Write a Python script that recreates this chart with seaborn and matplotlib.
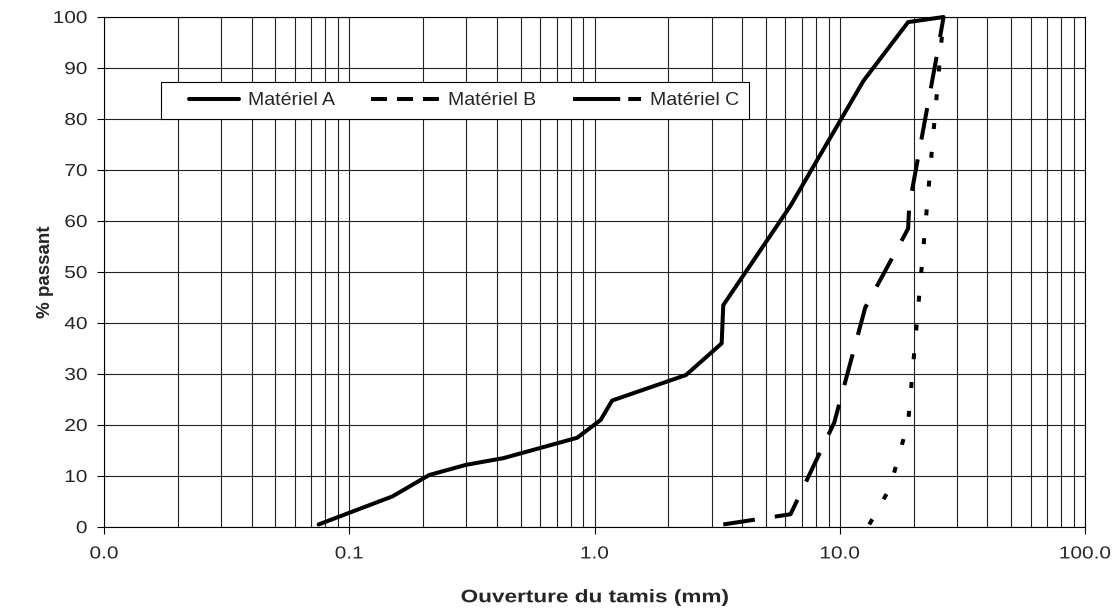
import matplotlib
matplotlib.use("Agg")
import matplotlib.pyplot as plt
from matplotlib.lines import Line2D
from matplotlib.patheffects import AbstractPathEffect
from matplotlib.transforms import Affine2D
from matplotlib.ticker import FixedLocator, LogLocator, NullFormatter, FuncFormatter
import seaborn as sns
import pandas as pd

# Sieve openings (mm) and percent passing for each material
mat_a_x = [0.075, 0.15, 0.212, 0.3, 0.425, 0.85, 1.06, 1.18, 2.36, 3.3, 3.35, 6.3, 12.5, 19.0, 26.5]
mat_a_y = [0.5, 6.0, 10.2, 12.2, 13.5, 17.5, 21.0, 24.8, 29.8, 36.0, 43.5, 63.0, 87.5, 99.0, 100.0]

mat_b_x = [13.2, 16.0, 19.0, 26.5]
mat_b_y = [0.5, 7.6, 20.5, 100.0]

mat_c_x = [3.35, 6.3, 9.5, 12.7, 19.0, 19.2, 22.4, 25.0, 26.5]
mat_c_y = [0.5, 2.5, 20.5, 43.0, 58.5, 63.0, 80.5, 93.0, 100.0]

series_names = ["Matériel A", "Matériel B", "Matériel C"]
x_tick_values = [0.01, 0.1, 1, 10, 100]
y_tick_values = list(range(0, 101, 10))


class HStretch(AbstractPathEffect):
    """Widen glyph outlines horizontally around an anchor (0 left, 0.5 centre, 1 right)."""

    def __init__(self, sx, anchor=0.5):
        super().__init__()
        self.sx = sx
        self.anchor = anchor

    def draw_path(self, renderer, gc, tpath, affine, rgbFace=None):
        ext = tpath.get_extents()
        x_a = ext.x0 + self.anchor * (ext.x1 - ext.x0)
        pre = Affine2D().translate(-x_a, 0).scale(self.sx, 1).translate(x_a, 0)
        renderer.draw_path(gc, tpath, pre + affine, rgbFace)


sns.set_style("white")
plt.rcParams["font.family"] = ["Liberation Sans", "DejaVu Sans"]
plt.rcParams["lines.scale_dashes"] = False

fig = plt.figure(figsize=(11.17, 6.13), dpi=100)
ax = fig.add_axes([104 / 1117, 1 - 527 / 613, 981 / 1117, 510 / 613])

lw = 2.9
styles = {
    "Matériel A": dict(linestyle="-"),
    "Matériel B": dict(linestyle=(0, (4.3, 16.5))),
    "Matériel C": dict(linestyle=(0, (23, 14.5))),
}
data = {
    "Matériel A": (mat_a_x, mat_a_y),
    "Matériel B": (mat_b_x, mat_b_y),
    "Matériel C": (mat_c_x, mat_c_y),
}
for name in series_names:
    xs, ys = data[name]
    df = pd.DataFrame({"x": xs, "y": ys})
    sns.lineplot(data=df, x="x", y="y", ax=ax, sort=False, estimator=None,
                 color="black", lw=lw, solid_capstyle="round",
                 solid_joinstyle="round", dash_joinstyle="round",
                 clip_on=False, zorder=5, **styles[name])

ax.set_xscale("log")
ax.set_xlim(0.01, 100)
ax.set_ylim(0, 100)

ax.xaxis.set_major_locator(FixedLocator(x_tick_values))
ax.xaxis.set_major_formatter(FuncFormatter(lambda v, p: f"{v:.1f}"))
ax.xaxis.set_minor_locator(LogLocator(base=10, subs=range(2, 10)))
ax.xaxis.set_minor_formatter(NullFormatter())
ax.yaxis.set_major_locator(FixedLocator(y_tick_values))

ax.grid(True, which="both", axis="x", color="#222222", lw=0.8)
ax.grid(True, which="major", axis="y", color="#222222", lw=0.8)
ax.set_axisbelow(True)

ax.tick_params(axis="both", which="major", direction="out", length=5,
               width=0.8, color="black", labelsize=12.5,
               bottom=True, left=True)
ax.tick_params(axis="x", which="major", pad=9)
ax.tick_params(axis="y", which="major", pad=7)
ax.tick_params(axis="x", which="minor", length=0)
for s in ax.spines.values():
    s.set_color("black")
    s.set_linewidth(0.8)

ax.set_xlabel("Ouverture du tamis (mm)", fontsize=13, fontweight="bold", labelpad=20)
ax.set_ylabel("% passant", fontsize=13.5, fontweight="bold", labelpad=3)
ax.xaxis.label.set_path_effects([HStretch(1.25)])

handles = [
    Line2D([], [], color="black", lw=lw, linestyle=(36.7, (36.7, 13.0)),
           dash_capstyle="round"),
    Line2D([], [], color="black", lw=lw, linestyle=(0, (11.5, 7.2))),
    Line2D([], [], color="black", lw=lw, linestyle=(0, (34, 5.8))),
]
leg = ax.legend(handles, series_names, loc="upper left",
                bbox_to_anchor=(57 / 981, (527 - 82) / 510), borderaxespad=0,
                ncol=3, fontsize=14, handlelength=3.5, handletextpad=0.45,
                columnspacing=1.9, frameon=True, fancybox=False,
                borderpad=0.5)
leg.get_frame().set_edgecolor("black")
leg.get_frame().set_linewidth(0.8)
leg.get_frame().set_facecolor("white")
leg.get_frame().set_alpha(1)
leg.set_zorder(10)

fig.canvas.draw()
for t in ax.get_xticklabels():
    t.set_path_effects([HStretch(1.2, 0.5)])
for t in ax.get_yticklabels():
    t.set_path_effects([HStretch(1.2, 1.0)])

fig.savefig("out.png", dpi=100)
